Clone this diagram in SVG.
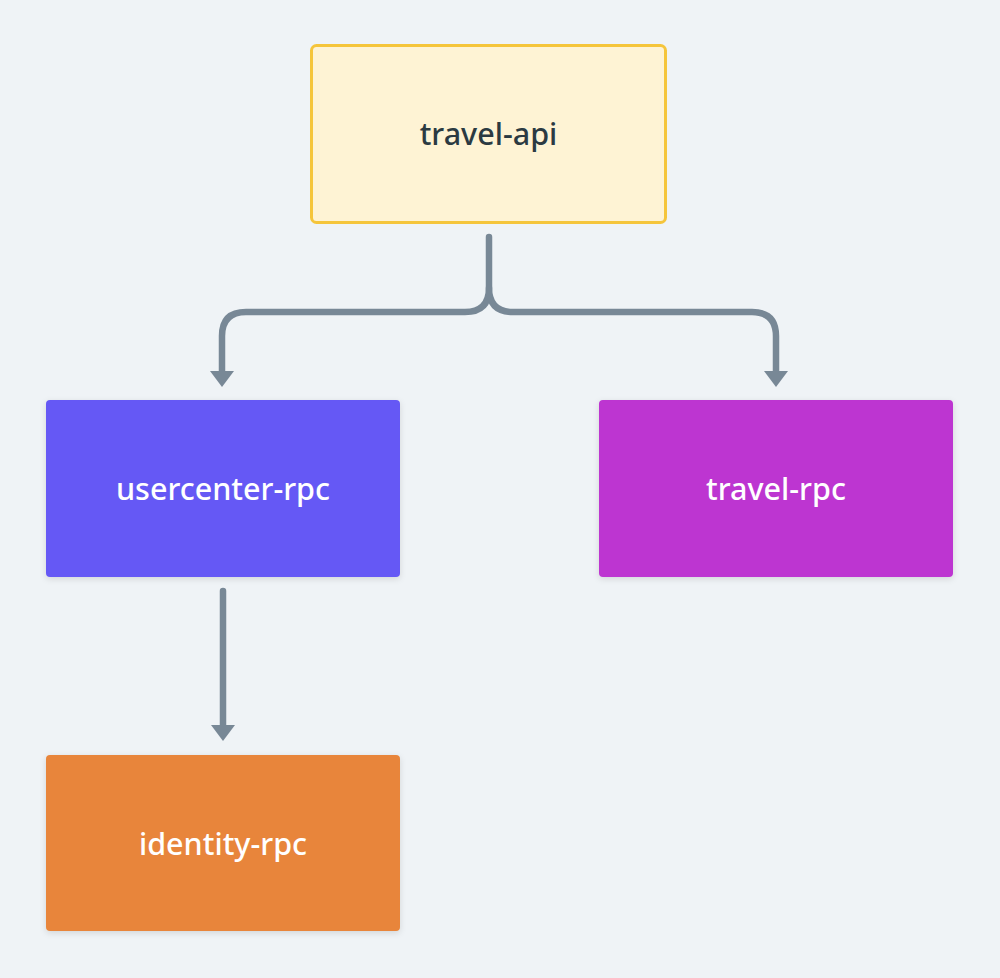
<svg xmlns="http://www.w3.org/2000/svg" width="1000" height="978" viewBox="0 0 1000 978">
<style>
.lbl{font-family:"Noto Sans","Open Sans",sans-serif;font-size:30.5px;font-weight:500;text-anchor:middle}
.w{fill:#ffffff}
.d{fill:#2b3a42}
.conn{fill:none;stroke:#788896;stroke-width:6.5;stroke-linecap:round;stroke-linejoin:round}
</style>
<defs>
<filter id="sh" x="-10%" y="-10%" width="120%" height="130%">
<feDropShadow dx="0" dy="2" stdDeviation="3" flood-color="#000" flood-opacity="0.12"/>
</filter>
<marker id="ah" markerUnits="userSpaceOnUse" viewBox="0 0 16 24" refX="0" refY="12" markerWidth="16" markerHeight="24" orient="auto">
<path d="M0,0 L16,12 L0,24 z" fill="#788896"/>
</marker>
</defs>
<rect width="1000" height="978" fill="#eff3f6"/>
<g id="connectors">
<path class="conn" d="M489,237 L489,288 Q489,312 465,312 L246,312 Q222,312 222,336 L222,371" marker-end="url(#ah)"/>
<path class="conn" d="M489,288 Q489,312 513,312 L752,312 Q776,312 776,336 L776,371" marker-end="url(#ah)"/>
<path class="conn" d="M223,591 L223,725" marker-end="url(#ah)"/>
</g>
<g id="travel-api">
<rect x="311.5" y="45.5" width="354" height="177" rx="5" fill="#fef3d4" stroke="#f5c53b" stroke-width="3"/>
<text class="lbl d" x="488.5" y="145">travel-api</text>
</g>
<g id="usercenter-rpc">
<rect x="46" y="400" width="354" height="177" rx="4" fill="#6558f5" filter="url(#sh)"/>
<text class="lbl w" x="223" y="500">usercenter-rpc</text>
</g>
<g id="travel-rpc">
<rect x="599" y="400" width="354" height="177" rx="4" fill="#bd34d1" filter="url(#sh)"/>
<text class="lbl w" x="776" y="500">travel-rpc</text>
</g>
<g id="identity-rpc">
<rect x="46" y="755" width="354" height="176" rx="4" fill="#e8853a" filter="url(#sh)"/>
<text class="lbl w" x="223" y="855">identity-rpc</text>
</g>
</svg>
